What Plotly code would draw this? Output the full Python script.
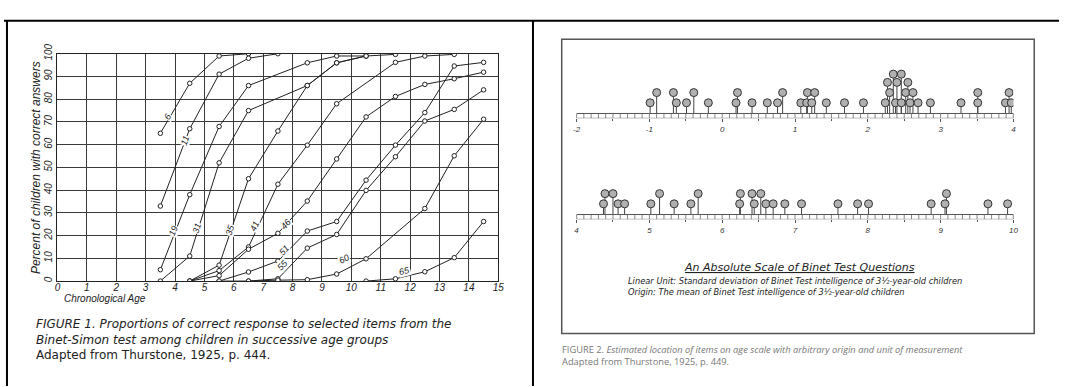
import numpy as np
import plotly.graph_objects as go

W, H = 1065, 387
N = None

# ---------------- Figure 1 data (percent correct by chronological age) ----------------
AGES = [3.5, 4.5, 5.5, 6.5, 7.5, 8.5, 9.5, 10.5, 11.5, 12.5, 13.5, 14.5]
ITEM_6 = [65, 87, 99, 100, N, N, N, N, N, N, N, N]
ITEM_11 = [33, 67, 91, 98, 100, N, N, N, N, N, N, N]
ITEM_19 = [5, 38, 68, 86, N, 96, 99, 99, N, N, N, N]
ITEM_31 = [0, 11, 52, 75, N, 86, 96, 99, 99.7, N, N, N]
ITEM_35 = [N, 0, 7, 45, 66, 86, 96, 99, N, N, N, N]
ITEM_41 = [N, 0, 4.6, 15, 42.6, 59.8, 78, N, 96.2, 99, 99.7, N]
ITEM_46 = [N, 0, 2.4, 14, 21, 35.2, 53.7, 72.2, 81.2, 86.5, 89, 91.9]
ITEM_51 = [N, N, 0, 4, 8.8, 22, 26.2, 44.4, 59.8, 74.1, 94.6, 96.2]
ITEM_55 = [N, N, N, 0, 1, 14.5, 20.5, 39.9, 54.7, 70.4, 75.5, 84.1]
ITEM_60 = [N, N, 0, 0, 0.4, 0.6, 3.1, 9.8, N, 31.9, 55.1, 71.2]
ITEM_65 = [N, N, N, N, N, N, N, 0, 1, 4.1, 10.3, 26.2]
ITEM_NAMES = ["6", "11", "19", "31", "35", "41", "46", "51", "55", "60", "65"]
ITEM_SERIES = [ITEM_6, ITEM_11, ITEM_19, ITEM_31, ITEM_35, ITEM_41,
               ITEM_46, ITEM_51, ITEM_55, ITEM_60, ITEM_65]
X_TICKS = list(range(0, 16))
Y_TICKS = list(range(0, 101, 10))

# label placement (style): age along curve and vertical offset in percent
LABEL_AGE = [3.74, 4.34, 3.95, 4.75, 5.86, 6.72, 7.78, 7.72, 7.66, 9.75, 11.8]
LABEL_DY = [2, 0, 2, 2, 2, 3, 0, 2, 4, 5, 2.5]

# ---------------- Figure 2 data (item locations on absolute scale) ----------------
SCALE1_RANGE = [-2, 4]
SCALE1_TICKS = [-2, -1, 0, 1, 2, 3, 4]
SCALE1_VALUES = [-0.99, -0.63, -0.49, -0.19, 0.19, 0.41, 0.62, 0.76, 1.08, 1.16, 1.23,
                 1.43, 1.68, 1.94, 2.24, 2.38, 2.46, 2.58, 2.69, 2.86, 3.28, 3.51,
                 3.89, 3.97,
                 -0.90, -0.67, -0.39, 0.21, 0.83, 1.17, 1.27, 2.30, 2.52, 2.62, 3.51, 3.94,
                 2.27, 2.40, 2.55,
                 2.35, 2.46]
SCALE1_TIERS = [1] * 24 + [2] * 12 + [3] * 3 + [4] * 2

SCALE2_RANGE = [4, 10]
SCALE2_TICKS = [4, 5, 6, 7, 8, 9, 10]
SCALE2_VALUES = [4.37, 4.57, 4.66, 5.02, 5.34, 5.57, 6.24, 6.44, 6.60, 6.70, 6.86, 7.09,
                 7.59, 7.86, 8.01, 8.87, 9.06, 9.65, 9.92,
                 4.39, 4.50, 5.14, 5.67, 6.25, 6.41, 6.53, 9.08]
SCALE2_TIERS = [1] * 19 + [2] * 8

# ---------------- styles ----------------
TIER_PX = {1: 13.5, 2: 24, 3: 34.5, 4: 43}
CIRCLE = 8
LETTER = "Liberation Sans"
LETTER2 = "DejaVu Sans"
CAPTION = "Open Sans"
INK = "#222"
PX_YEAR = 445 / 15.0
PX_PCT = 234 / 100.0

fig = go.Figure()

# Figure 1 curves
for name, vals in zip(ITEM_NAMES, ITEM_SERIES):
    xs = [a for a, v in zip(AGES, vals) if v is not None]
    ys = [v for v in vals if v is not None]
    fig.add_trace(go.Scatter(
        x=xs, y=ys, mode="lines+markers", xaxis="x", yaxis="y",
        line=dict(color=INK, width=1),
        marker=dict(symbol="circle", size=4.5, color="white",
                    line=dict(color=INK, width=1)),
        showlegend=False, hoverinfo="skip"))

annotations = []
for name, vals, la, dy in zip(ITEM_NAMES, ITEM_SERIES, LABEL_AGE, LABEL_DY):
    xs = np.array([a for a, v in zip(AGES, vals) if v is not None])
    ys = np.array([v for v in vals if v is not None], dtype=float)
    yv = float(np.interp(la, xs, ys))
    i = int(np.clip(np.searchsorted(xs, la) - 1, 0, len(xs) - 2))
    slope = (ys[i + 1] - ys[i]) / (xs[i + 1] - xs[i])
    ang = np.degrees(np.arctan(slope * PX_PCT / PX_YEAR))
    annotations.append(dict(
        x=la, y=yv + dy, xref="x", yref="y", showarrow=False,
        text=f"<i>{name}</i>", textangle=-ang, bgcolor="white", borderpad=0,
        font=dict(family=LETTER, size=9, color=INK)))


def add_scale(values, tiers, xa, ya, rng):
    sx, sy = [], []
    for v, t in zip(values, tiers):
        sx += [v, v, None]
        sy += [2.5, TIER_PX[t] - CIRCLE / 2.0, None]
    fig.add_trace(go.Scatter(x=sx, y=sy, mode="lines", xaxis=xa, yaxis=ya,
                             line=dict(color="#444", width=1),
                             showlegend=False, hoverinfo="skip"))
    # ruler hatch
    hx, hy = [], []
    for v in np.round(np.arange(rng[0], rng[1] + 1e-9, 0.1), 2):
        hx += [v, v, None]
        hy += [-2.5, 2.5, None]
    fig.add_trace(go.Scatter(x=hx, y=hy, mode="lines", xaxis=xa, yaxis=ya,
                             line=dict(color="#888", width=1),
                             showlegend=False, hoverinfo="skip"))
    fig.add_trace(go.Scatter(x=values, y=[TIER_PX[t] for t in tiers], mode="markers",
                             xaxis=xa, yaxis=ya,
                             marker=dict(symbol="circle", size=CIRCLE, color="#b0b0b0",
                                         line=dict(color="#333", width=1)),
                             showlegend=False, hoverinfo="skip"))


add_scale(SCALE1_VALUES, SCALE1_TIERS, "x2", "y2", SCALE1_RANGE)
add_scale(SCALE2_VALUES, SCALE2_TIERS, "x3", "y3", SCALE2_RANGE)


def px(x):
    return x / W


def py(y):
    return 1 - y / H


def seg(x0, y0, x1, y1, color="black", width=2):
    return dict(type="line", xref="paper", yref="paper", x0=px(x0), x1=px(x1),
                y0=py(y0), y1=py(y1), line=dict(color=color, width=width))


shapes = [
    seg(0, 11, W, 11),
    seg(3, 11, 3, H),
    seg(534, 11, 534, H),
    dict(type="rect", xref="paper", yref="paper", x0=px(563), x1=px(1040), y0=py(333), y1=py(30),
         line=dict(color="#555", width=1.5)),
    dict(type="rect", xref="x2", yref="y2", x0=SCALE1_RANGE[0], x1=SCALE1_RANGE[1], y0=-2.5, y1=2.5,
         line=dict(color="#555", width=1)),
    dict(type="rect", xref="x3", yref="y3", x0=SCALE2_RANGE[0], x1=SCALE2_RANGE[1], y0=-2.5, y1=2.5,
         line=dict(color="#555", width=1)),
]


def txt(x, y, s, size, family=LETTER, color=INK, xanchor="left", angle=0):
    annotations.append(dict(x=px(x), y=py(y), xref="paper", yref="paper", showarrow=False,
                            text=s, xanchor=xanchor, yanchor="middle", textangle=angle,
                            align="left", borderpad=0,
                            font=dict(family=family, size=size, color=color)))


txt(33, 162, "<i>Percent of children with correct answers</i>", 12, xanchor="center", angle=-90)
txt(60, 297, "<i>Chronological Age</i>", 10)
txt(31, 339.5,
    "<i>FIGURE 1. Proportions of correct response to selected items from the</i><br>"
    "<i>Binet-Simon test among children in successive age groups</i><br>"
    "Adapted from Thurstone, 1925, p. 444.", 12, LETTER2)

txt(803, 265, "<i><u>An Absolute Scale of Binet Test Questions</u></i>", 11, LETTER2, xanchor="center")
txt(629, 284.5,
    "<i>Linear Unit: Standard deviation of Binet Test intelligence of 3½-year-old children</i><br>"
    "<i>Origin: The mean of Binet Test intelligence of 3½-year-old children</i>", 8.3, LETTER2)
txt(562, 355.5,
    "FIGURE 2. <i>Estimated location of items on age scale with arbitrary origin and unit of measurement</i><br>"
    "Adapted from Thurstone, 1925, p. 449.", 9.3, CAPTION, "#777")

axis_common = dict(showgrid=True, gridcolor="#3a3a3a", gridwidth=1, zeroline=False,
                   showline=True, linecolor=INK, linewidth=1, mirror=True, ticks="",
                   tickfont=dict(family=LETTER, size=10, color=INK))

scale_x = dict(showgrid=False, zeroline=False, showline=False, ticks="outside", ticklen=3,
               tickcolor="#555", tickwidth=1,
               minor=dict(dtick=0.5, ticks="outside", ticklen=2, tickcolor="#555"),
               tickfont=dict(family=LETTER, size=8, color="#333"))

fig.update_layout(
    width=W, height=H, autosize=False,
    margin=dict(l=0, r=0, t=0, b=0, pad=0),
    paper_bgcolor="white", plot_bgcolor="white",
    showlegend=False,
    xaxis=dict(domain=[px(54), px(499)], range=[0, 15], anchor="y",
               tickvals=X_TICKS, ticktext=[f"<i>{t}</i>" for t in X_TICKS],
               ticklabelstandoff=-3, **axis_common),
    yaxis=dict(domain=[py(279), py(45)], range=[0, 100], anchor="x",
               tickvals=Y_TICKS, ticktext=[f"<i>{t}</i>" for t in Y_TICKS], tickangle=-90,
               **axis_common),
    xaxis2=dict(domain=[px(578), px(1019)], range=SCALE1_RANGE, anchor="y2",
                tickvals=SCALE1_TICKS, ticktext=[f"<i>{t}</i>" for t in SCALE1_TICKS], **scale_x),
    yaxis2=dict(domain=[py(111.5), py(46)], range=[-2.5, 63], anchor="x2", visible=False),
    xaxis3=dict(domain=[px(578), px(1019)], range=SCALE2_RANGE, anchor="y3",
                tickvals=SCALE2_TICKS, ticktext=[f"<i>{t}</i>" for t in SCALE2_TICKS], **scale_x),
    yaxis3=dict(domain=[py(215.5), py(151)], range=[-2.5, 62], anchor="x3", visible=False),
    shapes=shapes,
    annotations=annotations,
)

fig.write_html("out.html")
